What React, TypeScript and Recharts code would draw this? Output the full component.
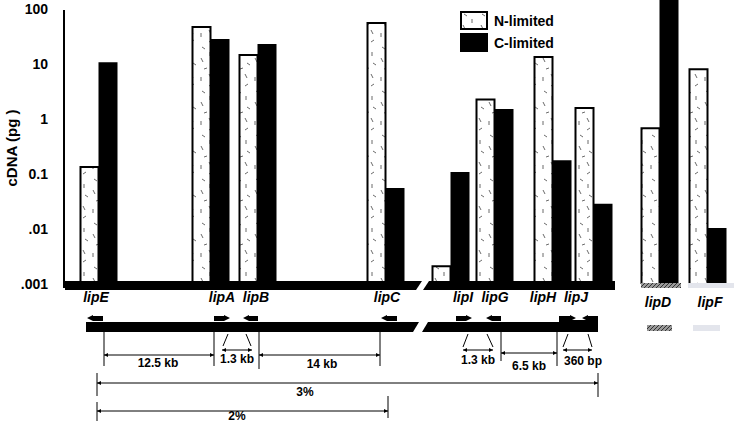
import { Bar, BarChart, Legend, XAxis, YAxis } from 'recharts'

const GENES = ['lipE', 'lipA', 'lipB', 'lipC', 'lipI', 'lipG', 'lipH', 'lipJ', 'lipD', 'lipF']
const N_LIMITED = [0.135, 48, 14.8, 57, 0.0021, 2.3, 13.6, 1.6, 0.69, 8.2]
const C_LIMITED = [11, 29, 23.5, 0.056, 0.11, 1.54, 0.18, 0.029, 300, 0.0105]
const Y_TICKS = [0.001, 0.01, 0.1, 1, 10, 100]
const Y_TICK_LABELS = ['.001', '.01', '0.1', '1', '10', '100']

// layout: where each gene column sits along the x axis, and label tweaks
const GENE_X: Record<string, number> = {
  lipE: 35, lipA: 147, lipB: 194, lipC: 322, lipI: 387,
  lipG: 431, lipH: 489, lipJ: 530, lipD: 596, lipF: 644,
}
const LABEL_NUDGE: Record<string, [number, number]> = {
  lipE: [-3, 0], lipA: [11, 0], lipB: [-2, 0], lipC: [1, 0], lipI: [12, 0],
  lipG: [0, 0], lipH: [-10, 0], lipJ: [-18, 0], lipD: [-2, 5], lipF: [2, 5],
}

const FONT = '"Liberation Sans", Arial, Helvetica, sans-serif'

const data = GENES.map((g, i) => ({ gene: g, pos: GENE_X[g], n: N_LIMITED[i], c: C_LIMITED[i] }))

function GeneTick({ x, y, payload }: any) {
  const gene = GENES.find((g) => GENE_X[g] === payload.value) ?? ''
  const [dx, dy] = LABEL_NUDGE[gene] ?? [0, 0]
  return (
    <text x={x + dx} y={y + 10 + dy} textAnchor="middle" fontFamily={FONT} fontSize={14}
      fontWeight="bold" fontStyle="italic" fill="#000">
      {gene}
    </text>
  )
}

function LegendBox() {
  return (
    <svg width={110} height={44}>
      <rect x={1} y={1} width={26} height={17} fill="url(#nDash)" stroke="#000" strokeWidth={2} />
      <rect x={0} y={22} width={28} height={19} fill="#000" />
      <text x={34} y={15} fontFamily={FONT} fontSize={14} fontWeight="bold">N-limited</text>
      <text x={34} y={37} fontFamily={FONT} fontSize={14} fontWeight="bold">C-limited</text>
    </svg>
  )
}

function Arrow({ x1, x2, y, dir }: { x1: number; x2: number; y: number; dir: 'l' | 'r' }) {
  const pts = dir === 'l'
    ? `${x1},${y} ${x1 + 6},${y - 3} ${x1 + 6},${y - 2} ${x2},${y - 2} ${x2},${y + 3} ${x1 + 6},${y + 3} ${x1 + 6},${y + 3}`
    : `${x2},${y} ${x2 - 6},${y - 3} ${x2 - 6},${y - 2} ${x1},${y - 2} ${x1},${y + 3} ${x2 - 6},${y + 3} ${x2 - 6},${y + 3}`
  return <polygon points={pts} fill="#000" />
}

function Dim({ x1, x2, y }: { x1: number; x2: number; y: number }) {
  return (
    <g stroke="#000" strokeWidth={1} fill="#000">
      <line x1={x1} y1={y} x2={x2} y2={y} />
      <polygon points={`${x1},${y} ${x1 + 4},${y - 2} ${x1 + 4},${y + 2}`} stroke="none" />
      <polygon points={`${x2},${y} ${x2 - 4},${y - 2} ${x2 - 4},${y + 2}`} stroke="none" />
    </g>
  )
}

function Overlay() {
  const t = { fontFamily: FONT, fontSize: 12, fontWeight: 'bold' as const, textAnchor: 'middle' as const }
  return (
    <svg width={734} height={423} style={{ position: 'absolute', left: 0, top: 0, pointerEvents: 'none' }}>
      <line x1={64} y1={10} x2={64} y2={288} stroke="#000" strokeWidth={2} />
      <text x={0} y={0} transform="translate(17,148) rotate(-90)" fontFamily={FONT} fontSize={15}
        fontWeight="bold" textAnchor="middle">cDNA (pg )</text>

      {/* baseline with break */}
      <polygon points="65,281 422,281 416,290 65,290" fill="#000" />
      <polygon points="429,281 615,281 615,290 423,290" fill="#000" />
      <rect x={641} y={283} width={40} height={5} fill="url(#dHatch)" />
      <rect x={688} y={283} width={46} height={5} fill="#e3e5ec" />

      {/* gene map */}
      <polygon points="86,322 419,322 413,332 86,332" fill="#000" />
      <polygon points="428,322 598,322 598,332 422,332" fill="#000" />
      <Arrow x1={87} x2={103} y={318} dir="l" />
      <Arrow x1={214} x2={230} y={318} dir="r" />
      <Arrow x1={243} x2={258} y={318} dir="l" />
      <Arrow x1={381} x2={397} y={318} dir="l" />
      <Arrow x1={456} x2={472} y={318} dir="r" />
      <Arrow x1={486} x2={501} y={318} dir="l" />
      <rect x={559} y={320} width={39} height={3} fill="#000" />
      <Arrow x1={559} x2={576} y={318} dir="r" />
      <Arrow x1={582} x2={598} y={318} dir="l" />

      <g stroke="#000" strokeWidth={1}>
        <line x1={104} y1={332} x2={104} y2={366} />
        <line x1={214} y1={332} x2={214} y2={366} />
        <line x1={259} y1={332} x2={259} y2={369} />
        <line x1={380} y1={332} x2={380} y2={366} />
        <line x1={228} y1={334} x2={223} y2={346} />
        <line x1={246} y1={334} x2={251} y2={346} />
        <line x1={468} y1={334} x2={463} y2={347} />
        <line x1={487} y1={334} x2={493} y2={347} />
        <line x1={501} y1={332} x2={501} y2={361} />
        <line x1={557} y1={332} x2={557} y2={366} />
        <line x1={568} y1={334} x2={563} y2={347} />
        <line x1={588} y1={334} x2={592} y2={347} />
        <line x1={97} y1={373} x2={97} y2={396} />
        <line x1={598} y1={373} x2={598} y2={397} />
        <line x1={97} y1={402} x2={97} y2={421} />
        <line x1={388} y1={396} x2={388} y2={418} />
      </g>
      <Dim x1={104} x2={214} y={355} />
      <Dim x1={222} x2={252} y={350} />
      <Dim x1={259} x2={380} y={355} />
      <Dim x1={463} x2={493} y={350} />
      <Dim x1={501} x2={557} y={353} />
      <Dim x1={563} x2={592} y={350} />
      <Dim x1={97} x2={598} y={383} />
      <Dim x1={97} x2={388} y={411} />
      <text x={158} y={367} {...t}>12.5 kb</text>
      <text x={237} y={363} {...t}>1.3 kb</text>
      <text x={322} y={368} {...t}>14 kb</text>
      <text x={478} y={364} {...t}>1.3 kb</text>
      <text x={529} y={370} {...t}>6.5 kb</text>
      <text x={583} y={365} {...t}>360 bp</text>
      <text x={305} y={396} {...t}>3%</text>
      <text x={237} y={420} {...t}>2%</text>
      <rect x={647} y={325} width={25} height={6} fill="url(#dHatch)" />
      <rect x={693} y={325} width={27} height={6} fill="#e3e5ec" />
    </svg>
  )
}

export default function App() {
  return (
    <div style={{ position: 'absolute', left: 0, top: 0, width: 734, height: 423, background: '#fff' }}>
      <svg width={0} height={0} style={{ position: 'absolute' }}>
        <defs>
          <pattern id="nDash" patternUnits="userSpaceOnUse" width={18} height={44}>
            <rect width={18} height={44} fill="#fff" />
            <g stroke="#444" strokeWidth={0.8}>
              <line x1={4} y1={3} x2={7} y2={5} />
              <line x1={12} y1={8} x2={12} y2={12} />
              <line x1={3} y1={14} x2={5} y2={18} />
              <line x1={13} y1={19} x2={16} y2={21} />
              <line x1={6} y1={25} x2={9} y2={24} />
              <line x1={11} y1={30} x2={13} y2={34} />
              <line x1={3} y1={33} x2={3} y2={37} />
              <line x1={14} y1={40} x2={11} y2={42} />
            </g>
          </pattern>
          <pattern id="dHatch" patternUnits="userSpaceOnUse" width={4} height={4}>
            <rect width={4} height={4} fill="#9a9a9a" />
            <path d="M0,4 L4,0" stroke="#333" strokeWidth={1} />
          </pattern>
        </defs>
      </svg>
      <BarChart width={734} height={423} data={data} barGap={0}
        margin={{ top: 0, right: 0, bottom: 109, left: 0 }}>
        <XAxis type="number" dataKey="pos" domain={[0, 670]} ticks={GENES.map((g) => GENE_X[g])}
          height={30} axisLine={false} tickLine={false} tick={<GeneTick />} interval={0} />
        <YAxis scale="log" type="number" domain={[0.001, 149]} allowDataOverflow width={64}
          ticks={Y_TICKS} axisLine={false} tickLine={false} tickSize={6} tickMargin={10}
          tickFormatter={(v: number) => Y_TICK_LABELS[Y_TICKS.indexOf(v)] ?? String(v)}
          tick={{ fontFamily: FONT, fontSize: 14, fontWeight: 'bold', fill: '#000' }} />
        <Legend layout="vertical" align="center" verticalAlign="middle" content={<LegendBox />}
          wrapperStyle={{ position: 'absolute', left: 460, top: 11, width: 110, height: 44 }} />
        <Bar dataKey="n" name="N-limited" fill="url(#nDash)" stroke="#000" strokeWidth={2}
          barSize={18} isAnimationActive={false} />
        <Bar dataKey="c" name="C-limited" fill="#000" barSize={19} isAnimationActive={false} />
      </BarChart>
      <Overlay />
    </div>
  )
}
